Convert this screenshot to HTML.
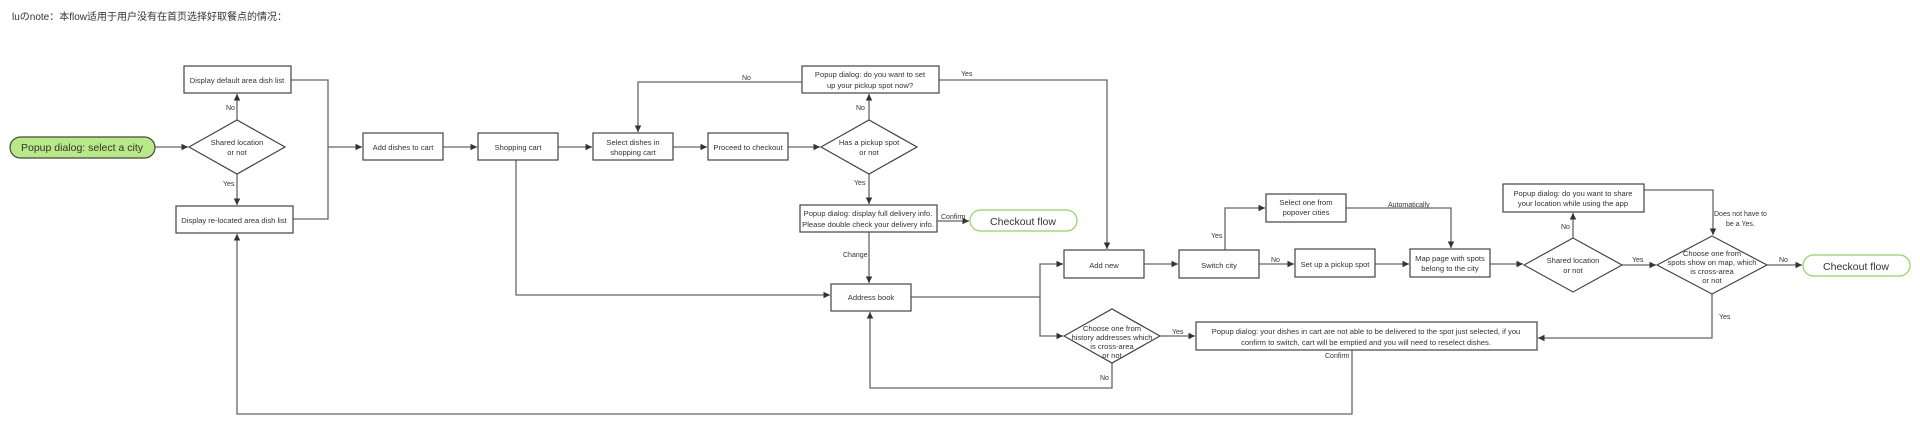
<!DOCTYPE html>
<html><head><meta charset="utf-8"><style>
body{margin:0;background:#fff;width:1920px;height:430px;overflow:hidden}
svg{display:block}
text{font-family:"Liberation Sans","Noto Sans CJK SC",sans-serif;fill:#333;font-size:7.6px}
.l{font-size:7px}
.t{font-size:10px}
</style></head><body>
<svg width="1920" height="430" viewBox="0 0 1920 430">
<defs><marker id="a" markerWidth="6" markerHeight="6" refX="5" refY="3" orient="auto"><path d="M0,0.5 L5,3 L0,5.5z" fill="#333"/></marker></defs>
<text class="t" x="12" y="20">luのnote：本flow适用于用户没有在首页选择好取餐点的情况：</text>
<g fill="none" stroke="#666" stroke-width="1.3">
<line x1="155" y1="147" x2="188" y2="147" marker-end="url(#a)"/>
<line x1="237" y1="120" x2="237" y2="94" marker-end="url(#a)"/>
<line x1="237" y1="174" x2="237" y2="205" marker-end="url(#a)"/>
<polyline points="291,80 328,80 328,219 293,219"/>
<line x1="328" y1="147" x2="362" y2="147" marker-end="url(#a)"/>
<line x1="443" y1="147" x2="477" y2="147" marker-end="url(#a)"/>
<line x1="558" y1="147" x2="592" y2="147" marker-end="url(#a)"/>
<line x1="673" y1="147" x2="707" y2="147" marker-end="url(#a)"/>
<line x1="788" y1="147" x2="820" y2="147" marker-end="url(#a)"/>
<line x1="869" y1="120" x2="869" y2="94" marker-end="url(#a)"/>
<line x1="869" y1="174" x2="869" y2="204" marker-end="url(#a)"/>
<polyline points="802,82 638,82 638,132" marker-end="url(#a)"/>
<polyline points="939,80 1107,80 1107,249" marker-end="url(#a)"/>
<line x1="937" y1="221" x2="969" y2="221" marker-end="url(#a)"/>
<line x1="869" y1="232" x2="869" y2="283" marker-end="url(#a)"/>
<polyline points="516,160 516,295 830,295" marker-end="url(#a)"/>
<polyline points="911,297 1040,297"/>
<polyline points="1040,297 1040,264 1063,264" marker-end="url(#a)"/>
<polyline points="1040,297 1040,336 1063,336" marker-end="url(#a)"/>
<polyline points="1112,363 1112,388 870,388 870,312" marker-end="url(#a)"/>
<line x1="1160" y1="336" x2="1195" y2="336" marker-end="url(#a)"/>
<polyline points="1352,350 1352,414 237,414 237,234" marker-end="url(#a)"/>
<line x1="1144" y1="264" x2="1178" y2="264" marker-end="url(#a)"/>
<polyline points="1225,250 1225,208 1265,208" marker-end="url(#a)"/>
<polyline points="1346,208 1451,208 1451,248" marker-end="url(#a)"/>
<line x1="1259" y1="264" x2="1294" y2="264" marker-end="url(#a)"/>
<line x1="1375" y1="264" x2="1409" y2="264" marker-end="url(#a)"/>
<line x1="1490" y1="264" x2="1523" y2="264" marker-end="url(#a)"/>
<line x1="1573" y1="238" x2="1573" y2="213" marker-end="url(#a)"/>
<line x1="1622" y1="265" x2="1656" y2="265" marker-end="url(#a)"/>
<polyline points="1644,190 1713,190 1713,235" marker-end="url(#a)"/>
<line x1="1767" y1="265" x2="1802" y2="265" marker-end="url(#a)"/>
<polyline points="1712,294 1712,338 1538,338" marker-end="url(#a)"/>
</g>
<g stroke="#444" stroke-width="1.2" fill="#fff">
<rect x="10" y="137" width="145" height="21" rx="10.5" fill="#b8e986" stroke="#444"/>
<polygon points="189,147 237,120 285,147 237,174"/>
<rect x="184" y="66" width="107" height="27"/>
<rect x="176" y="206" width="117" height="27"/>
<rect x="363" y="133" width="80" height="27"/>
<rect x="478" y="133" width="80" height="27"/>
<rect x="593" y="133" width="80" height="27"/>
<rect x="708" y="133" width="80" height="27"/>
<polygon points="821,147 869,120 917,147 869,174"/>
<rect x="802" y="66" width="137" height="27"/>
<rect x="800" y="205" width="137" height="27"/>
<rect x="970" y="210" width="107" height="21" rx="10.5" stroke="#8fd460"/>
<rect x="831" y="284" width="80" height="27"/>
<rect x="1064" y="250" width="80" height="28"/>
<rect x="1179" y="250" width="80" height="28"/>
<polygon points="1064,336 1112,309 1160,336 1112,363"/>
<rect x="1196" y="322" width="341" height="28"/>
<rect x="1266" y="194" width="80" height="28"/>
<rect x="1295" y="249" width="80" height="28"/>
<rect x="1410" y="249" width="80" height="28"/>
<polygon points="1524,265 1573,238 1622,265 1573,292"/>
<rect x="1503" y="184" width="141" height="28"/>
<polygon points="1657,265 1712,236 1767,265 1712,294"/>
<rect x="1803" y="255" width="107" height="21" rx="10.5" stroke="#8fd460"/>
</g>
<g text-anchor="middle">
<text x="82" y="151" style="font-size:10.5px">Popup dialog: select a city</text>
<text x="237" y="145">Shared location</text><text x="237" y="155">or not</text>
<text x="237" y="83">Display default area dish list</text>
<text x="234" y="223">Display re-located area dish list</text>
<text x="403" y="150">Add dishes to cart</text>
<text x="518" y="150">Shopping cart</text>
<text x="633" y="145">Select dishes in</text><text x="633" y="155">shopping cart</text>
<text x="748" y="150">Proceed to checkout</text>
<text x="869" y="145">Has a pickup spot</text><text x="869" y="155">or not</text>
<text x="870" y="77">Popup dialog: do you want to set</text><text x="870" y="88">up your pickup spot now?</text>
<text x="868" y="216">Popup dialog: display full delivery info.</text><text x="868" y="227">Please double check your delivery info.</text>
<text x="1023" y="225" style="font-size:10.5px">Checkout flow</text>
<text x="871" y="300">Address book</text>
<text x="1104" y="268">Add new</text>
<text x="1219" y="268">Switch city</text>
<text x="1112" y="331">Choose one from</text><text x="1112" y="340">history addresses which</text><text x="1112" y="349">is cross-area</text><text x="1112" y="358">or not</text>
<text x="1366" y="334">Popup dialog: your dishes in cart are not able to be delivered to the spot just selected, if you</text>
<text x="1366" y="345">confirm to switch, cart will be emptied and you will need to reselect dishes.</text>
<text x="1306" y="205">Select one from</text><text x="1306" y="215">popover cities</text>
<text x="1335" y="267">Set up a pickup spot</text>
<text x="1450" y="261">Map page with spots</text><text x="1450" y="271">belong to the city</text>
<text x="1573" y="263">Shared location</text><text x="1573" y="273">or not</text>
<text x="1573" y="196">Popup dialog: do you want to share</text><text x="1573" y="206">your location while using the app</text>
<text x="1712" y="256">Choose one from</text><text x="1712" y="265">spots show on map, which</text><text x="1712" y="274">is cross-area</text><text x="1712" y="283">or not</text>
<text x="1856" y="270" style="font-size:10.5px">Checkout flow</text>
</g>
<g>
<text class="l" x="226" y="110">No</text>
<text class="l" x="223" y="186">Yes</text>
<text class="l" x="742" y="80">No</text>
<text class="l" x="961" y="76">Yes</text>
<text class="l" x="856" y="110">No</text>
<text class="l" x="854" y="185">Yes</text>
<text class="l" x="941" y="219">Confirm</text>
<text class="l" x="843" y="257">Change</text>
<text class="l" x="1100" y="380">No</text>
<text class="l" x="1172" y="334">Yes</text>
<text class="l" x="1325" y="358">Confirm</text>
<text class="l" x="1211" y="238">Yes</text>
<text class="l" x="1271" y="262">No</text>
<text class="l" x="1388" y="207">Automatically</text>
<text class="l" x="1561" y="229">No</text>
<text class="l" x="1632" y="262">Yes</text>
<text class="l" x="1714" y="216">Does not have to</text>
<text class="l" x="1726" y="226">be a Yes.</text>
<text class="l" x="1779" y="262">No</text>
<text class="l" x="1719" y="319">Yes</text>
</g>
</svg>
</body></html>
